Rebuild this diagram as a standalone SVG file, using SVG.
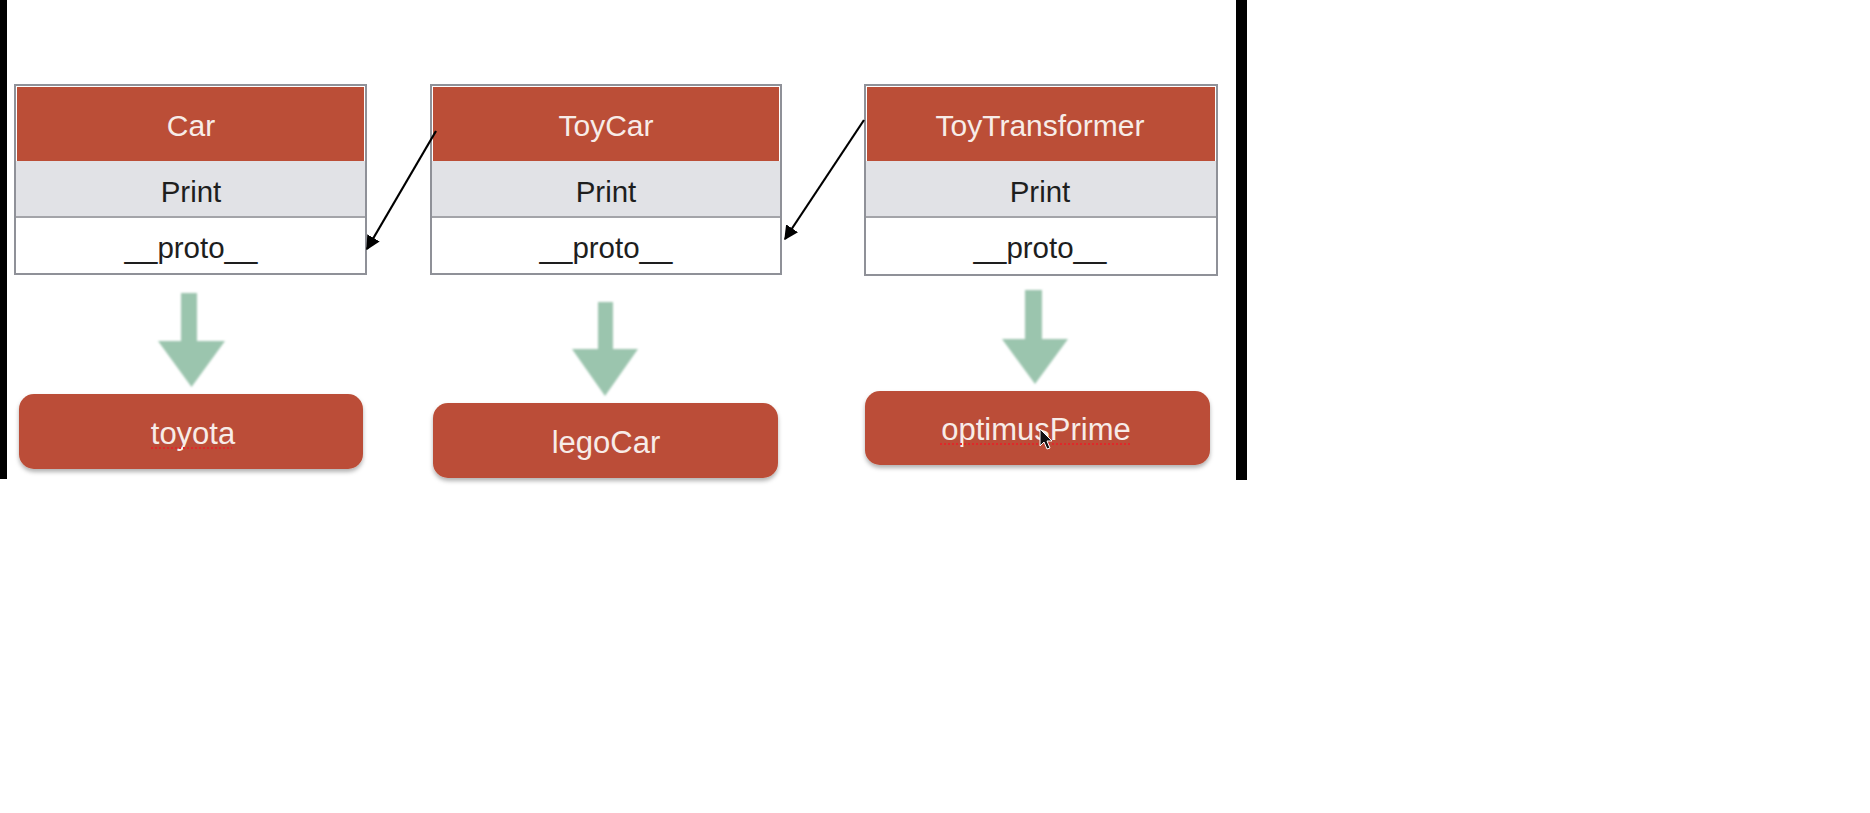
<svg xmlns="http://www.w3.org/2000/svg" width="1870" height="813" viewBox="0 0 1870 813">
<defs>
  <marker id="ah" viewBox="0 0 10 10" refX="9" refY="5" markerWidth="6.5" markerHeight="6.5" orient="auto" markerUnits="strokeWidth">
    <path d="M0,0 L10,5 L0,10 z" fill="#000"/>
  </marker>
  <filter id="sh" x="-5%" y="-10%" width="110%" height="130%">
    <feDropShadow dx="0" dy="3" stdDeviation="2" flood-color="#000" flood-opacity="0.3"/>
  </filter>
  <filter id="soft" x="-10%" y="-10%" width="120%" height="120%">
    <feGaussianBlur stdDeviation="0.8"/>
  </filter>
</defs>
<style>
  .frame{fill:#fff;stroke:#8f9198;stroke-width:2}
  .hdr{fill:#bb4e37}
  .row{fill:#e1e2e6}
  .sep{stroke:#a3a4a9;stroke-width:2}
  .ht{font-family:"Liberation Sans",Arial,sans-serif;font-size:30px;fill:#f7ece8;text-anchor:middle}
  .bt{font-family:"Liberation Sans",Arial,sans-serif;font-size:29.5px;fill:#1e1e1e;text-anchor:middle}
  .inst{fill:#bb4e37}
  .it{font-family:"Liberation Sans",Arial,sans-serif;font-size:31px;fill:#f7ece8;text-anchor:middle}
  .garrow{fill:#9bc5ae}
  .link{stroke:#000;stroke-width:2.2;fill:none}
  .squig{stroke:#e0282a;stroke-width:2;stroke-dasharray:2 2}
</style>
<rect x="0" y="0" width="1870" height="813" fill="#fff"/>
<rect x="0" y="0" width="7" height="479" fill="#000"/>
<rect x="1236" y="0" width="11" height="480" fill="#000"/>

<g id="Car">
  <rect class="frame" x="15" y="85" width="351" height="189"/>
  <rect class="hdr" x="17" y="87" width="347" height="74"/>
  <rect class="row" x="16" y="161" width="349" height="55"/>
  <line class="sep" x1="16" y1="217" x2="365" y2="217"/>
  <text class="ht" x="191" y="136">Car</text>
  <text class="bt" x="191" y="202">Print</text>
  <text class="bt" x="191" y="258">__proto__</text>
</g>
<g id="ToyCar">
  <rect class="frame" x="431" y="85" width="350" height="189"/>
  <rect class="hdr" x="433" y="87" width="346" height="74"/>
  <rect class="row" x="432" y="161" width="348" height="55"/>
  <line class="sep" x1="432" y1="217" x2="780" y2="217"/>
  <text class="ht" x="606" y="136">ToyCar</text>
  <text class="bt" x="606" y="202">Print</text>
  <text class="bt" x="606" y="258">__proto__</text>
</g>
<g id="ToyTransformer">
  <rect class="frame" x="865" y="85" width="352" height="190"/>
  <rect class="hdr" x="867" y="87" width="348" height="74"/>
  <rect class="row" x="866" y="161" width="350" height="55"/>
  <line class="sep" x1="866" y1="217" x2="1216" y2="217"/>
  <text class="ht" x="1040" y="136">ToyTransformer</text>
  <text class="bt" x="1040" y="202">Print</text>
  <text class="bt" x="1040" y="258">__proto__</text>
</g>

<g id="toyota">
  <rect class="inst" x="19" y="394" width="344" height="75" rx="15" filter="url(#sh)"/>
  <text class="it" x="193" y="444">toyota</text>
  <line class="squig" x1="151" y1="448" x2="232" y2="448"/>
</g>
<g id="legoCar">
  <rect class="inst" x="433" y="403" width="345" height="75" rx="15" filter="url(#sh)"/>
  <text class="it" x="606" y="453">legoCar</text>
</g>
<g id="optimusPrime">
  <rect class="inst" x="865" y="391" width="345" height="74" rx="15" filter="url(#sh)"/>
  <text class="it" x="1036" y="440">optimusPrime</text>
  <line class="squig" x1="940" y1="444" x2="1132" y2="444"/>
  <path d="M1040,429 L1040,446 L1044,442 L1047,449 L1050,448 L1047,441 L1052,441 z" fill="#111" stroke="#fff" stroke-width="1"/>
</g>

<g id="connectors">
  <line class="link" x1="436" y1="131" x2="367" y2="249" marker-end="url(#ah)"/>
  <line class="link" x1="864" y1="120" x2="785" y2="239" marker-end="url(#ah)"/>
  <polygon class="garrow" filter="url(#soft)" points="181,293 197,293 197,341 225,341 191.5,387 158,341 181,341"/>
  <polygon class="garrow" filter="url(#soft)" points="598,302 613,302 613,349 638,349 605,396 572,349 598,349"/>
  <polygon class="garrow" filter="url(#soft)" points="1025,290 1042,290 1042,339 1068,339 1035,384 1002,339 1025,339"/>
</g>
</svg>
